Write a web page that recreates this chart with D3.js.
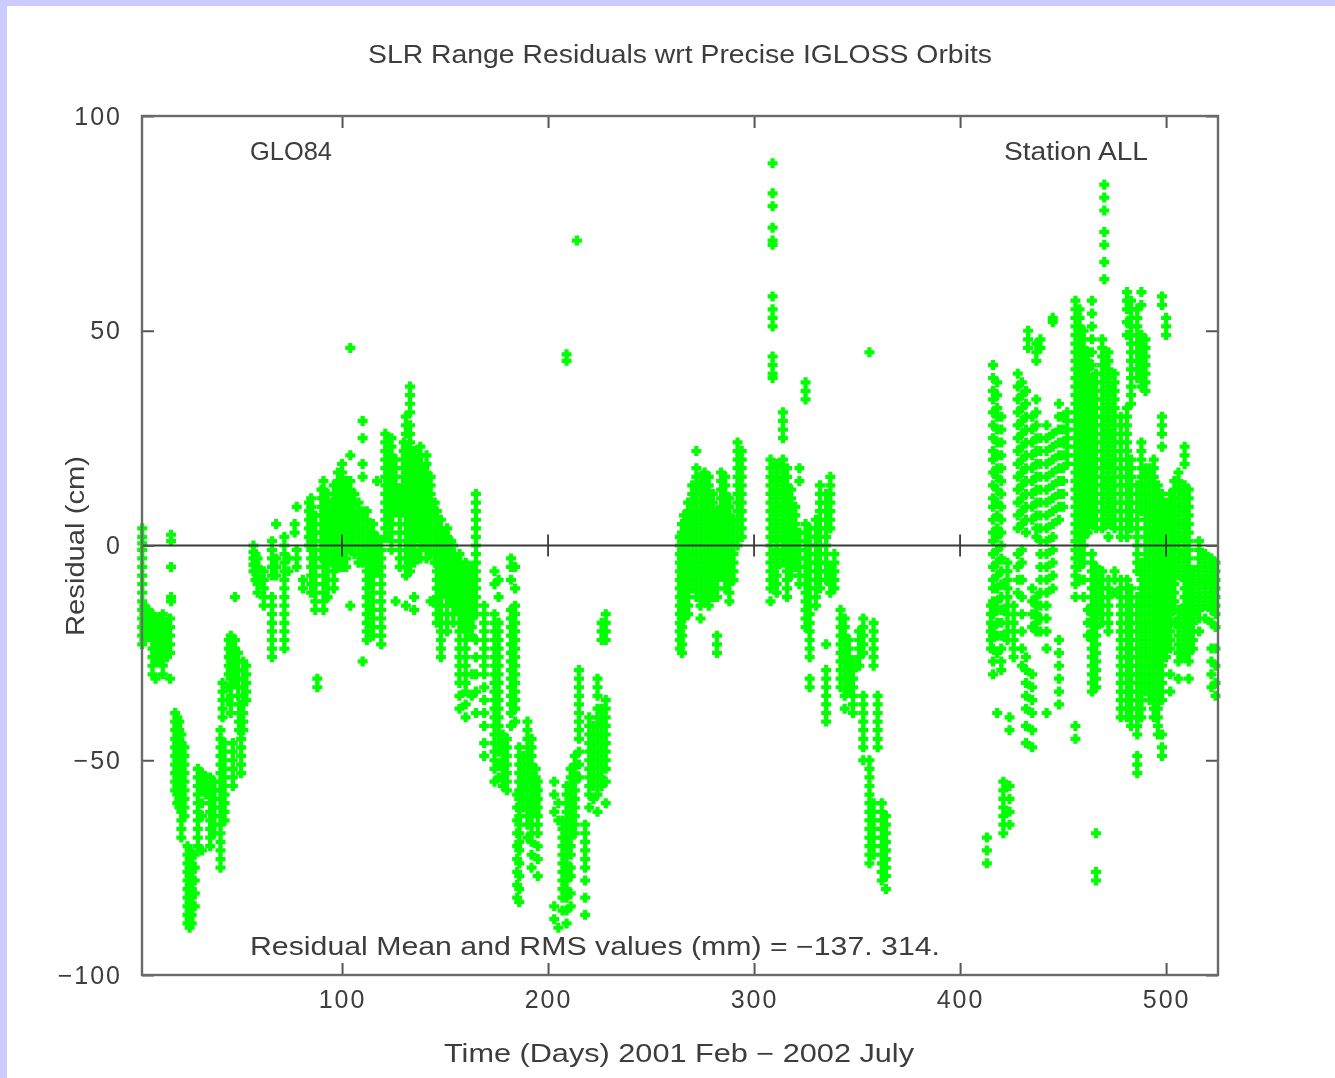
<!DOCTYPE html>
<html>
<head>
<meta charset="utf-8">
<script src="https://cdn.jsdelivr.net/npm/d3@7"></script>
<style>
  html, body { margin: 0; padding: 0; background: #ccccff; }
  svg { display: block; }
  text { font-family: "Liberation Sans", "DejaVu Sans", sans-serif; fill: #3c3c3c; }
</style>
</head>
<body>
<script>
// Axis ticks
const xTicks = [100, 200, 300, 400, 500];
const yTicks = [-100, -50, 0, 50, 100];

// Each pass: [day, residual (cm), residual, ...]
const passesEarly2001 = [
  [3, 4, 2, 0.5, -1, -3, -5, -7, -9, -11, -13, -15, -17, -19, -21, -23],
  [4, -14, -16, -18, -20, -22],
  [6, -15, -17, -19, -21],
  [8, -16, -18, -20, -22, -24, -26, -28, -30],
  [9.5, -17, -19, -21, -23, -25, -27, -31],
  [11, -17, -19, -21, -23, -25, -27],
  [13, -16, -18, -20, -22, -24, -26, -28, -30],
  [15, -18, -20, -22, -24, -26],
  [16.5, -17, -19, -21, -23, -25, -31],
  [17, 2.5, 1, -5, -12, -13],
  [19, -39, -41, -43, -45, -47, -49, -51, -53, -55, -57],
  [20, -40, -42, -44, -46, -48, -50, -52, -54, -56, -58, -60],
  [21, -41, -43, -45, -47, -49, -51, -53, -55, -57, -59, -61],
  [22, -44, -46, -48, -50, -52, -54, -56, -58, -60, -62, -64, -66, -68],
  [23.5, -47, -49, -51, -53, -55, -57, -59, -61, -63],
  [25, -70, -72, -74, -76, -78, -80, -82, -84, -86, -88],
  [26, -71, -73, -75, -77, -79, -81, -83, -85, -87, -89],
  [27, -72, -74, -76, -78, -80, -82, -84, -86, -88],
  [28.5, -72, -75, -78, -81, -84],
  [30, -52, -54, -56, -58, -60, -62, -64, -66, -68, -70],
  [32, -53, -55, -57, -60, -63, -71],
  [34, -54, -56, -58],
  [36, -54, -56, -58, -60, -62, -64, -66, -68, -70],
  [38, -55, -57, -59, -61, -63, -65, -67],
  [41, -43, -45, -47, -49, -51, -53, -55, -57, -59, -61, -63, -65, -67, -69, -71, -73, -75],
  [42, -32, -34, -36, -38, -40],
  [43, -46, -48, -50, -52, -54, -56, -58, -60, -62, -64],
  [45, -22, -24, -26, -28, -30, -33, -36],
  [46, -21, -23, -25, -27, -29, -31, -33, -35, -37, -39],
  [47, -46, -48, -50, -52, -54, -56],
  [48, -12, -22, -24, -26, -28, -30, -32],
  [49.5, -25, -27, -29, -31, -33, -35],
  [50, -37, -39, -41, -43],
  [51, -45, -47, -49, -51, -53],
  [52, -27, -29, -31, -33, -35, -37, -39, -41, -43],
  [53.5, -28, -30, -32, -34, -36],
  [57, 0, -1.5, -3, -4.5, -6],
  [58, -2, -4, -6, -8],
  [59, -3, -5, -7, -9, -11],
  [62, -6, -8, -10, -12, -14],
  [66, 1, -1, -3, -5, -7, -12, -14, -16, -18, -20, -22, -24, -26],
  [68, 5, -3, -5, -7],
  [72, 2, 0, -2, -4, -6, -8, -10, -12, -14, -16, -18, -20, -22, -24],
  [74, -3, -6],
  [77, 5, 3],
  [78, 9, -1, -3, -5],
  [81, -8, -10],
  [84, 10, 8, 6, 4, 2, 0],
  [85, 11, 9, 7, 5, 3, 1, -1, -3, -5, -7, -9, -11],
  [87, 7, 5, 3, 1, -1, -3, -5, -7, -9, -11, -13, -15],
  [88, -31, -33],
  [90, 13, 11, 9, 7, 5, 3, 1, -1, -3],
  [91, 15, 13, 11, 9, 7, 5, 3, 1, -1, -3, -5, -7, -9, -11, -13, -15],
  [93, 12, 10, 8, 6, 4, 2, 0, -2, -4, -6, -8, -10, -12],
  [95, 10, 8, 6, 4, 2, 0, -2, -4],
  [96, 14, 12, 10, 8, 6, 4, 2, 0, -2, -4, -6, -8, -10],
  [98, 17, 15, 13, 11, 9, 7, 5, 3, 1, -1, -3, -5],
  [100, 19, 17, 15, 13, 11, 9, 7, 5, 3, 1, -1, -3, -5],
  [102, 15, 13, 11, 9, 7, 5, 3, 1, -1, -3, -5],
  [104, 46, 21, 15, 13, 11, 9, 7, 5, 3, 1, -1, -14],
  [106, 12, 10, 8, 6, 4, 2, 0, -2],
  [108, 10, 8, 6, 4, 2, 0, -2, -4],
  [110, 29, 25, 19, 16, 8, 6, 4, 2, 0, -2, -4, -27],
  [112, 8, 6, 4, 2, 0, -2, -4, -6, -8, -10, -12, -14, -16, -18, -20, -22],
  [114, 3, 1, -1, -3, -5, -7, -9],
  [115, 5, 3, 1, -1, -3, -5, -7, -9, -11, -13, -15, -17, -19, -21],
  [117, 15, 2, 0, -2, -4, -6],
  [119, 1, -1, -3, -5, -7, -9, -11, -13, -15, -17, -19, -21, -23],
  [121, 26, 24, 22, 20, 18, 16, 14, 12, 10, 8, 6, 4, 2],
  [123, 20, 18, 16, 14, 12, 10, 8, 6],
  [124, 25, 23, 21, 19, 17, 15, 13, 11, 9, 7, 5, 3, 1, -1],
  [126, 20, 18, 16, 14, 12, 10, 8, -13],
  [128, 13, 11, 9, 7, 5, 3, 1, -1, -3, -5],
  [130, 24, 22, 20, 18, 16, 14, 12, 10, 8],
  [131, 30, 28, 26, 23, 21, 19, 17, 15, 13, 11, 9, 7, 5, 3, 1, -1, -3, -5, -7, -14],
  [133, 37, 35, 33, 31, 28, 26, 24, 22, 20, 18, 16, 14, 12, 10, 8, 6, 4, 2, 0, -2, -4, -6],
  [135, 22, 20, 18, 16, 14, 12, 10, 8, 6, 4, 2, 0, -2, -4, -12, -15],
  [137, 20, 18, 16, 14, 12, 10, 8, 6, 4, 2],
  [138, 23, 21, 19, 17, 15, 13, 11, 9, 7, 5, 3, 1, -1, -3],
  [140, 18, 16, 14, 12, 10, 8, 6, 4, 2, 0],
  [141, 21, 19, 17, 15, 13, 11, 9, 7, 5, 3, 1, -1, -3],
  [143, 16, 14, 12, 10, 8, 6, 4, 2, 0, -2, -13],
  [145, 10, 8, 6, 4, 2, 0, -2, -4],
  [146, 8, 6, 4, 2, 0, -2, -4, -6, -8, -10, -12, -14, -16, -18],
  [148, 6, 4, 2, 0, -2, -4, -6, -8, -10, -12, -14, -16, -18, -20, -22, -24, -26],
  [150, 3, 1, -1, -3, -5, -7, -9, -11],
  [151, 4, 2, 0, -2, -4, -6, -8, -10, -12, -14, -16, -18, -20],
  [153, 1, -1, -3, -5, -7, -9, -11, -13],
  [154, 0, -2, -4, -6, -8, -10, -12, -14, -16, -18],
  [156, -3, -5, -7, -9, -11, -13, -15],
  [157, -2, -4, -6, -8, -10, -12, -14, -16, -18, -20, -22, -24, -26, -28, -30, -32, -35, -38],
  [159, -5, -7, -9, -11, -13, -15, -17, -19],
  [160, -4, -6, -8, -10, -12, -14, -16, -18, -20, -22, -24, -26, -28, -30, -32, -34, -37, -40],
  [162, -6, -8, -10, -12, -14, -16, -18],
  [163, -5, -7, -9, -11, -13, -15, -17, -19, -21, -30, -35],
  [165, 12, 10, 8, 6, 4, 2, 0, -2, -4, -6, -8, -10, -12, -14, -16, -22, -26, -30, -34, -39],
  [169, -14, -16, -18, -20, -22, -24, -26, -28, -30, -33, -36, -39, -42, -46, -49],
  [174, -6, -9, -16, -18, -20, -22, -24, -26, -28, -30, -32, -34, -36, -38, -40, -42, -44, -46, -48, -50, -52, -55],
  [176, -8, -12, -18, -20, -22, -24, -26, -28, -30, -32, -34, -36, -38, -40, -42, -44, -46, -48, -51, -54],
  [178, -44, -46, -48, -50, -52, -54, -56],
  [180, -45, -47, -49, -51, -53, -55, -57],
  [182, -3, -5, -8, -15, -17, -19, -21, -23, -25, -27, -29, -31, -33, -35, -37, -39, -42],
  [184, -5, -10, -14, -16, -18, -20, -22, -24, -26, -28, -30, -32, -34, -36, -38, -41],
  [185, -58, -61, -64, -67, -70, -73, -76, -79, -82],
  [186, -47, -49, -51, -53, -55, -57, -59, -61, -63, -65, -67, -69, -71, -74, -77, -80, -83],
  [188, -49, -51, -53, -55, -57, -59, -61],
  [190, -41, -43, -45, -47, -49, -51, -53, -55, -57, -59, -61, -63, -65, -68],
  [192, -45, -47, -49, -51, -53, -55, -57, -59, -61, -63, -65, -67, -69, -72, -75],
  [194, -52, -54, -56, -58, -60, -62],
  [195, -55, -57, -59, -61, -63, -65, -67, -70, -73, -77],
  [203, -55, -58, -62, -84, -87],
  [205, -60, -64, -89],
  [207, -64, -66, -68, -70, -72, -74, -76, -78, -80, -82, -85],
  [209, 44.5, 43, -56, -58, -60, -62, -64, -66, -68, -70, -72, -74, -76, -78, -80, -82, -85, -88],
  [211, -52, -54, -56, -58, -60, -62, -64, -66, -68, -70, -72, -75, -77, -81, -84],
  [213, -49, -51, -53, -55, -57, -59, -61, -63, -65, -67],
  [214, 71],
  [215, -29, -31, -33, -35, -37, -39, -41, -43, -45, -48, -51, -54],
  [218, -65, -67, -69, -71, -73, -75, -78, -82, -86],
  [220, -40, -42, -44, -46, -48, -50, -52, -54, -56, -58, -61],
  [222, -42, -44, -46, -48, -50, -52, -54, -56, -59],
  [224, -31, -33, -35, -38, -40, -42, -44, -46, -48, -50, -52, -54, -56, -58, -62],
  [226, -18, -20, -22, -38, -40, -42, -44, -46, -48, -50, -52, -54, -56],
  [228, -16, -18, -20, -22, -36, -38, -40, -42, -44, -46, -48, -50, -52, -55, -60]
];

const passesLate2001 = [
  [264, 2, 0, -2, -4, -6, -8, -10, -12, -14, -16, -18, -20, -22, -24],
  [265, 5, 3, 1, -1, -3, -5, -7, -9, -11, -13, -15, -17, -19, -21, -23, -25],
  [266, 7, 5, 3, 1, -1, -3, -5, -7, -9, -11, -13, -15, -17],
  [268, 10, 8, 6, 4, 2, 0, -2, -4, -6, -8, -10, -12, -14, -16],
  [270, 14, 12, 10, 8, 6, 4, 2, 0, -2, -4, -6, -8, -10],
  [272, 22, 18, 16, 14, 12, 10, 8, 6, 4, 2, 0, -2, -4, -6, -8, -10, -12],
  [274, 16, 14, 12, 10, 8, 6, 4, 2, 0, -2, -4, -6, -8, -10, -12, -14, -17],
  [276, 17, 15, 13, 11, 9, 7, 5, 3, 1, -1, -3, -5, -7, -9, -11, -13],
  [278, 16, 14, 12, 10, 8, 6, 4, 2, 0, -2, -4, -6, -8, -10, -12, -14],
  [280, 12, 10, 8, 6, 4, 2, 0, -2, -4, -6, -8, -10, -12],
  [282, 8, 6, 4, 2, 0, -2, -4, -6, -8, -10, -12, -21, -23, -25],
  [284, 17, 15, 13, 11, 9, 7, 5, 3, 1, -1, -3, -5, -7],
  [286, 16, 14, 12, 10, 8, 6, 4, 2, 0, -2, -4, -6, -8, -10],
  [288, 11, 9, 7, 5, 3, 1, -1, -3, -5, -7, -9, -11, -13],
  [290, 6, 4, 2, 0, -2, -4, -6, -8],
  [292, 24, 22, 20, 18, 16, 14, 12, 10, 8, 6, 4, 2, 0],
  [294, 22, 20, 18, 16, 14, 12, 10, 8, 6, 4, 2],
  [308, 20, 18, 16, 14, 12, 10, 8, 6, 4, 2, 0, -2, -4, -6, -8, -10, -13],
  [309, 89, 82, 79, 74, 71, 70, 58, 55, 53, 51, 44, 42, 40, 39],
  [311, 19, 17, 15, 13, 11, 9, 7, 5, 3, 1, -1, -3, -5, -7, -9, -11],
  [314, 31, 29, 27, 25, 20, 18, 16, 14, 12, 10, 8, 6, 4, 2, 0, -2, -4],
  [316, 18, 16, 14, 12, 10, 8, 6, 4, 2, 0, -2, -4, -6, -8, -10, -12],
  [318, 13, 11, 9, 7, 5, 3, 1, -1, -3, -5, -7],
  [320, 9, 7, 5, 3, 1, -1, -3, -5],
  [322, 18, 15, 3, 1, -1, -3, -5, -7, -9],
  [325, 38, 36, 34, 5, 3, 1, -1, -3, -5, -7, -9, -11, -13, -15, -17, -19],
  [327, 4, 2, 0, -2, -4, -6, -8, -10, -12, -14, -16, -18, -20, -22, -24, -26, -31, -33],
  [330, 6, 4, 2, 0, -2, -4, -6, -8, -10, -12, -14],
  [332, 14, 12, 10, 8, 6, 4, 2, 0, -2, -4, -6, -8, -10],
  [335, 12, 10, 8, 6, 4, 2, 0, -2, -4, -6, -8, -23, -29, -31, -33, -35, -37, -39, -41],
  [337, 16, 14, 12, 10, 8, 6, 4, -5, -7, -9, -11],
  [339, -2, -4, -6, -8, -10],
  [342, -15, -17, -19, -21, -23, -25, -27, -29, -31, -33],
  [344, -17, -19, -21, -23, -25, -27, -29, -31, -33, -35, -38],
  [346, -22, -24, -26, -28, -30, -32, -34],
  [348, -27, -29, -31, -33, -35, -37, -39],
  [351, -20, -22, -24, -26, -28],
  [353, -17, -19, -21, -23, -25, -35, -37, -39, -41, -43, -45, -47, -50],
  [356, 45, -50, -52, -54, -56, -58, -60, -62, -64, -66, -68, -70, -72, -74],
  [358, -18, -20, -22, -24, -26, -28, -60, -62, -64, -66, -68, -70, -72],
  [360, -35, -37, -39, -41, -43, -45, -47],
  [362, -60, -62, -64, -66, -68, -70, -72, -74, -76, -78],
  [364, -63, -65, -67, -69, -71, -73, -75, -77, -80]
];

const passes2002 = [
  [413, -68, -71, -74],
  [415, -14, -16, -18, -20, -22, -24],
  [416, 42, 39, 36, 34, 31, 28, 25, 22, 20, 17, 14, 11, 9, 6, 3, 1, -2, -5, -8, -10, -13, -16, -19, -21, -24, -27, -30],
  [418, 38, 35, 32, 30, 27, 24, 21, 18, 16, 13, 10, 7, 4, 2, -1, -4, -7, -10, -13, -15, -18, -21, -25, -39],
  [420, 30, 27, 24, 21, 18, 15, 12, 9, 6, 3, 0, -3, -6, -9, -12, -15, -18, -21, -24, -27, -29],
  [421, -55, -57, -59, -61, -63, -65, -67],
  [423, -4, -6, -8, -10, -12, -14, -16, -18, -20, -22],
  [424, -40, -43, -56, -59, -62, -65],
  [426, -14, -16, -18, -20, -22, -24, -26],
  [428, 40, 37, 34, 31, 28, 25, 22, 19, 16, 13, 10, 7, 4, -2, -5, -8, -11],
  [430, 38, 35, 32, 29, 26, 23, 20, 17, 14, 11, 8, 5, -1, -4, -8, -12, -16, -20, -24, -28],
  [432, 36, 33, 30, 27, 24, 21, 18, 15, 12, 9, 6, 3, -26, -29, -32, -35, -38, -42, -46],
  [433, 50, 48, 46],
  [435, 30, 27, 24, 21, 18, 15, 12, 9, 6, -10, -13, -16, -19, -30, -33, -36, -39, -43, -47],
  [437, 47, 45, 43, 34, 31, 28, 25, 22, 19, 16, 13, 10, 7, 4, 2, -12, -14, -16, -18, -20],
  [439, 48, 46, 25, 22, 19, 16, 13, 10, 7, 4, 1, -2, -5, -8, -11, -14, -17, -20],
  [442, 28, 25, 22, 19, 16, 13, 10, 7, 4, 1, -2, -5, -8, -11, -14, -17, -20, -24, -39],
  [445, 53, 52, 26, 23, 20, 17, 14, 11, 8, 5, 2, -1, -4, -7, -10],
  [448, 33, 30, 27, 24, 21, 18, 15, 12, 9, 6, -22, -25, -28, -31, -34, -37],
  [450, 30, 27, 24, 21, 18, 15, 12, 9],
  [452, 31, 29, 27, 25, 23, 21, 19],
  [456, 57, 55, 53, 51, 49, 47, 45, 43, 41, 39, 37, 35, 33, 31, 29, 27, 25, 23, 21, 19, 17, 15, 13, 11, 9, 7, 5, 3, 1, -1, -3, -5, -7, -9, -12, -42, -45],
  [458, 55, 53, 51, 49, 47, 45, 43, 41, 39, 37, 35, 33, 31, 29, 27, 25, 23, 21, 19, 17, 15, 13, 11, 9, 7, 5, 3, 1, -1, -3, -5, -8],
  [460, 50, 48, 46, 44, 42, 40, 38, 36, 34, 32, 30, 28, 26, 24, 22, 20, 18, 16, 14, 12, 10, 8, 6, 4, 2, 0, -2, -4, -8, -12],
  [462, 45, 43, 41, 39, 37, 35, 33, 31, 29, 27, 25, 23, 21, 19, 17, 15, 13, 11, 9, 7, 5, 3, -15, -18, -21],
  [464, 57, 54, 51, 48, 45, 42, 39, 37, 35, 33, 31, 29, 27, 25, 23, 21, 19, 17, 15, 13, 11, 9, 7, 5, -2, -4, -6, -8, -10, -12, -14, -16, -18, -20, -22, -24, -26, -28, -30, -32, -34],
  [466, 40, 38, 36, 34, 32, 30, 28, 26, 24, 22, 20, 18, 16, 14, 12, 10, 8, 6, 4, -5, -7, -9, -11, -13, -15, -17, -19, -21, -23, -25, -27, -29, -31, -33, -67, -76, -78],
  [469, 48, 46, 44, 42, 40, 38, 36, 34, 32, 30, 28, 26, 24, 22, 20, 18, 16, 14, 12, 10, 8, 6, 4, -6, -8, -10, -12, -14, -16, -18],
  [470, 84, 81, 78, 73, 70, 66, 62],
  [472, 45, 43, 41, 39, 37, 35, 33, 31, 29, 27, 25, 23, 21, 19, 17, 15, 13, 11, 9, 7, 5, 2, -8, -10, -12, -14, -16, -18, -20],
  [475, 40, 38, 36, 34, 32, 30, 28, 26, 24, 22, 20, 18, 16, 14, 12, 10, 8, 6, 4, -6, -8, -11],
  [478, 30, 28, 26, 24, 22, 20, 18, 16, 14, 12, 10, 8, 6, 4, 2, -8, -10, -12, -14, -16, -18, -20, -22, -24, -26, -28, -30, -32, -34, -36, -38, -40],
  [481, 59, 57, 55, 52, 49, 32, 30, 28, 26, 24, 22, 20, 18, 16, 14, 12, 10, 8, 6, 4, 2, -8, -10, -12, -14, -16, -18, -20, -22, -24, -26, -28, -30, -32, -34, -36, -38, -40],
  [483, 57, 55, 53, 51, 49, 47, 45, 43, 41, 39, 37, 35, 33, 20, 18, 16, 14, 12, 10, 8, 6, 4, -10, -12, -14, -16, -18, -20, -22, -24, -26, -28, -30, -32, -34, -36, -38, -40, -42],
  [486, 55, 53, 51, 49, 47, 45, 43, 41, 39, 14, 12, 10, 8, 6, 4, 2, 0, -2, -4, -6, -12, -14, -16, -18, -20, -22, -24, -26, -28, -30, -32, -34, -36, -38, -40, -42, -44, -49, -51, -53],
  [488, 59, 56, 49, 47, 45, 43, 41, 39, 37, 24, 22, 20, 18, 16, 14, 12, 10, 8, -4, -6, -8, -10, -12, -14, -16, -18, -20, -22, -24, -26, -28, -30, -32, -34, -36, -38, -40],
  [490, 48, 46, 44, 42, 40, 38, 36, 18, 16, 14, 12, 10, 8, 6, 4, 2, 0, -2, -4, -6, -8, -10, -12, -14, -16, -18, -20, -22, -24, -26, -28, -30, -32, -34],
  [492, 18, 16, 14, 12, 10, 8, 6, 4, 2, 0, -2, -4, -6, -8, -10, -12, -14, -16, -18, -20, -22, -24, -26, -28, -30, -32, -34, -36],
  [494, 20, 18, 16, 14, 12, 10, 8, 6, 4, 2, 0, -2, -4, -6, -8, -10, -12, -14, -16, -18, -20, -22, -24, -26, -28, -30, -32, -34, -36, -38, -40],
  [496, 14, 12, 10, 8, 6, 4, 2, 0, -2, -4, -6, -8, -10, -12, -14, -16, -18, -20, -22, -24, -26, -28, -30, -32, -34, -36, -38, -40, -42, -44],
  [498, 58, 56, 30, 28, 26, 23, 12, 10, 8, 6, 4, 2, 0, -2, -4, -6, -8, -10, -12, -14, -16, -18, -20, -22, -24, -26, -28, -30, -32, -34, -36, -44, -47, -49],
  [500, 53, 51, 49, 10, 8, 6, 4, 2, 0, -2, -4, -6, -8, -10, -12, -14, -16, -18, -20, -22, -24, -26],
  [502, 12, 10, 8, 6, 4, 2, 0, -2, -4, -6, -8, -10, -12, -14, -16, -18, -20, -22, -24, -30, -34],
  [504, 15, 13, 11, 9, 7, 5, 3, 1, -1, -3, -5, -7, -9, -11, -13, -15, -18],
  [506, 17, 15, 13, 11, 9, 7, 5, 3, 1, -1, -3, -5, -7, -15, -17, -19, -21, -23, -25, -27, -31],
  [509, 23, 21, 19, 14, 12, 10, 8, 6, 4, 2, 0, -2, -4, -6, -8, -10, -12, -14, -16, -18, -20, -22, -24, -26],
  [511, 13, 11, 9, 7, 5, 3, 1, -1, -3, -5, -7, -9, -11, -13, -15, -17, -19, -21, -23, -25, -27, -31],
  [513, -6, -8, -10, -12, -14, -16, -18, -20, -22, -24],
  [516, 1, -1, -3, -5, -7, -9, -11, -13, -15, -17, -20],
  [519, -2, -4, -6, -8, -10, -12, -14, -17],
  [522, -3, -5, -7, -9, -11, -13, -15, -18, -24, -27, -30, -33],
  [524, -4, -6, -8, -10, -12, -14, -16, -19, -24, -28, -32, -35]
];

const W = 1335, H = 1078;
const plot = { left: 142, right: 1218, top: 116, bottom: 975 };

const svg = d3.select("body").append("svg").attr("width", W).attr("height", H);

// white sheet inside the lavender page margin
svg.append("rect").attr("x", 7).attr("y", 6).attr("width", W - 7).attr("height", H - 6).attr("fill", "#ffffff");

const x = d3.scaleLinear().domain([2.9, 525.2]).range([plot.left, plot.right]);
const y = d3.scaleLinear().domain([-100, 100]).range([plot.bottom, plot.top]);

const defs = svg.append("defs");
defs.append("filter").attr("id", "soft").append("feGaussianBlur").attr("stdDeviation", 0.55);

// residual points
const points = [...passesEarly2001, ...passesLate2001, ...passes2002]
  .flatMap(([day, ...vals]) => vals.map(v => ({ day, v })));

// chunky plus marker: a thick cross merged with a small diamond
const blobPlus = {
  draw(ctx, size) {
    const L = Math.sqrt(size) / 2, w = L * 0.42, R = L * 0.82;
    ctx.moveTo(-w, -L); ctx.lineTo(w, -L); ctx.lineTo(w, -w); ctx.lineTo(L, -w);
    ctx.lineTo(L, w); ctx.lineTo(w, w); ctx.lineTo(w, L); ctx.lineTo(-w, L);
    ctx.lineTo(-w, w); ctx.lineTo(-L, w); ctx.lineTo(-L, -w); ctx.lineTo(-w, -w);
    ctx.closePath();
    ctx.moveTo(0, -R); ctx.lineTo(R, 0); ctx.lineTo(0, R); ctx.lineTo(-R, 0);
    ctx.closePath();
  }
};
const symbol = d3.symbol().type(blobPlus).size(100);
svg.append("g").attr("filter", "url(#soft)")
  .selectAll("path").data(points).join("path")
  .attr("d", symbol)
  .attr("transform", d => `translate(${x(d.day)},${y(d.v)})`)
  .attr("fill", "#00ff00");

// zero line with crossing ticks
const g0 = svg.append("g").attr("filter", "url(#soft)");
g0.append("line")
  .attr("x1", plot.left).attr("x2", plot.right)
  .attr("y1", y(0)).attr("y2", y(0))
  .attr("stroke", "#3a3a3a").attr("stroke-width", 1.8);
g0.selectAll("line.zt").data(xTicks).join("line").attr("class", "zt")
  .attr("x1", d => x(d)).attr("x2", d => x(d))
  .attr("y1", y(0) - 11).attr("y2", y(0) + 11)
  .attr("stroke", "#3a3a3a").attr("stroke-width", 1.8);

// axes: inward ticks on all four sides
const fontSize = 25;
function styleAxis(g, showLabels) {
  g.select(".domain").remove();
  g.selectAll(".tick line").attr("stroke", "#555").attr("stroke-width", 2);
  g.selectAll(".tick text")
    .attr("fill", "#3c3c3c")
    .style("font-size", fontSize + "px")
    .style("letter-spacing", "2px")
    .style("font-family", '"Liberation Sans", sans-serif');
  if (!showLabels) g.selectAll(".tick text").remove();
}
const fmt = d => (d < 0 ? "\u2212" + Math.abs(d) : String(d));

const axes = svg.append("g").attr("filter", "url(#soft)");
axes.append("g").attr("transform", `translate(0,${plot.bottom})`)
  .call(d3.axisBottom(x).tickValues(xTicks).tickSize(-12).tickPadding(15).tickFormat(fmt))
  .call(g => styleAxis(g, true));
axes.append("g").attr("transform", `translate(0,${plot.top})`)
  .call(d3.axisTop(x).tickValues(xTicks).tickSize(-12))
  .call(g => styleAxis(g, false));
axes.append("g").attr("transform", `translate(${plot.left},0)`)
  .call(d3.axisLeft(y).tickValues(yTicks).tickSize(-12).tickPadding(20).tickFormat(fmt))
  .call(g => styleAxis(g, true));
axes.append("g").attr("transform", `translate(${plot.right},0)`)
  .call(d3.axisRight(y).tickValues(yTicks).tickSize(-12))
  .call(g => styleAxis(g, false));

// frame
axes.append("rect")
  .attr("x", plot.left).attr("y", plot.top)
  .attr("width", plot.right - plot.left).attr("height", plot.bottom - plot.top)
  .attr("fill", "none").attr("stroke", "#6a6a6a").attr("stroke-width", 2.4);

// texts
const texts = svg.append("g").attr("filter", "url(#soft)")
  .style("font-size", fontSize + "px");
function label(str, cx, cy, len, rotate) {
  const t = texts.append("text")
    .attr("x", cx).attr("y", cy)
    .attr("text-anchor", "middle")
    .attr("dominant-baseline", "central")
    .attr("textLength", len).attr("lengthAdjust", "spacingAndGlyphs")
    .text(str);
  if (rotate) t.attr("transform", `rotate(-90,${cx},${cy})`);
  return t;
}
label("SLR Range Residuals wrt Precise IGLOSS Orbits", 680, 54, 624);
label("GLO84", 291, 151, 82);
label("Station ALL", 1076, 151, 144);
label("Residual Mean and RMS values (mm) = \u2212137. 314.", 595, 946, 690);
label("Time (Days) 2001 Feb \u2212 2002 July", 679, 1053, 470);
label("Residual (cm)", 75, 546, 180, true);
</script>
</body>
</html>
